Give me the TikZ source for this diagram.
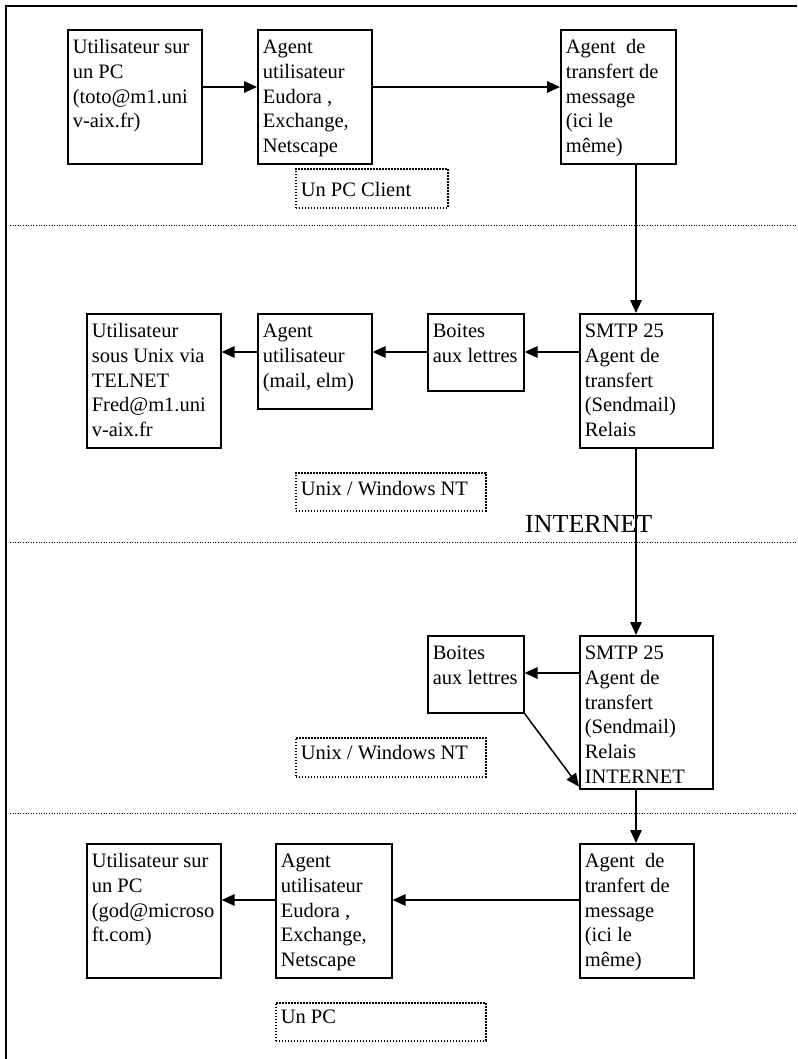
\documentclass[tikz,border=0pt]{standalone}
\usepackage{fontspec}
\setmainfont{Liberation Serif}
\usetikzlibrary{arrows.meta,calc}
\newcommand{\bxt}[4]{\parbox[t][#2][t]{#1}{\raggedright\rule{0pt}{#3}#4}}
\begin{document}
\begin{tikzpicture}[x=1pt,y=-1pt,
  box/.style={draw,line width=1.6pt,inner xsep=5pt,inner ysep=0pt,anchor=north west,
    font=\fontsize{20.5}{24.7}\selectfont},
  lbl/.style={box,dash pattern=on 1.6pt off 1.4pt},
  arr/.style={line width=1.5pt,-{Triangle[length=13pt,width=11.5pt]}},
  sepline/.style={line width=0.9pt,dash pattern=on 1pt off 1.6pt},
  frame/.style={line width=2.5pt}]
\useasboundingbox (0,0) rectangle (797,1059);
% frame
\coordinate (f1) at (6,1059);
\coordinate (f2) at (6,6);
\coordinate (f3) at (797,6);
\draw[frame] (f1) -- (f2) -- (f3);
% separators
\coordinate (s1a) at (10,225); \coordinate (s1b) at (797,225);
\coordinate (s2a) at (10,542); \coordinate (s2b) at (797,542);
\coordinate (s3a) at (10,813); \coordinate (s3b) at (797,813);
\draw[sepline] (s1a) -- (s1b);
\draw[sepline] (s2a) -- (s2b);
\draw[sepline] (s3a) -- (s3b);
% row A
\node[box] (A1) at (67,29) {\bxt{124pt}{134pt}{24pt}{Utilisateur~sur\\un~PC\\(toto@m1.uni\\v-aix.fr)}};
\node[box] (A2) at (257,29) {\bxt{104pt}{134pt}{24pt}{Agent\\utilisateur\\Eudora~,\\Exchange,\\Netscape}};
\node[box] (A3) at (560,29) {\bxt{105pt}{134pt}{24pt}{Agent~~de\\transfert~de\\message\\(ici~le\\même)}};
\node[lbl] (L1) at (295,168) {\bxt{142pt}{39pt}{28pt}{Un~PC~Client}};
% row B
\node[box] (B1) at (86,313) {\bxt{124pt}{134pt}{24pt}{Utilisateur\\sous~Unix~via\\TELNET\\Fred@m1.uni\\v-aix.fr}};
\node[box] (B2) at (257,313) {\bxt{104pt}{95pt}{24pt}{Agent\\utilisateur\\(mail,~elm)}};
\node[box] (B3) at (427,313) {\bxt{86pt}{77pt}{24pt}{Boites\\aux~lettres}};
\node[box] (B4) at (579,313) {\bxt{123pt}{134pt}{24pt}{SMTP~25\\Agent~de\\transfert\\(Sendmail)\\Relais}};
\node[lbl] (L2) at (295,472) {\bxt{180pt}{38pt}{23pt}{Unix~/~Windows~NT}};
\node[anchor=base west,inner sep=0pt,font=\fontsize{26}{30}\selectfont] (inet) at (525,532) {INTERNET};
% row C
\node[box] (C1) at (427,635) {\bxt{86pt}{77pt}{24pt}{Boites\\aux~lettres}};
\node[box] (C2) at (579,635) {\bxt{123pt}{153pt}{24pt}{SMTP~25\\Agent~de\\transfert\\(Sendmail)\\Relais\\INTERNET}};
\node[lbl] (L3) at (295,737) {\bxt{180pt}{39pt}{22pt}{Unix~/~Windows~NT}};
% row D
\node[box] (D1) at (86,843) {\bxt{124pt}{134pt}{24pt}{Utilisateur~sur\\un~PC\\(god@microso\\ft.com)}};
\node[box] (D2) at (275,843) {\bxt{106pt}{134pt}{24pt}{Agent\\utilisateur\\Eudora~,\\Exchange,\\Netscape}};
\node[box] (D3) at (579,843) {\bxt{104pt}{134pt}{24pt}{Agent~~de\\tranfert~de\\message\\(ici~le\\même)}};
\node[lbl] (L4) at (275,1002) {\bxt{200pt}{38pt}{21pt}{Un~PC}};
% connectors
\coordinate (vx) at (636,0);
\coordinate (h1) at (0,87);
\coordinate (h2) at (0,352);
\coordinate (h3) at (0,673);
\coordinate (h4) at (0,900);
\draw[arr] (A1.east |- h1) -- (A2.west |- h1);
\draw[arr] (A2.east |- h1) -- (A3.west |- h1);
\draw[arr] (A3.south -| vx) -- (B4.north -| vx);
\draw[arr] (B4.west |- h2) -- (B3.east |- h2);
\draw[arr] (B3.west |- h2) -- (B2.east |- h2);
\draw[arr] (B2.west |- h2) -- (B1.east |- h2);
\draw[arr] (B4.south -| vx) -- (C2.north -| vx);
\draw[arr] (C2.west |- h3) -- (C1.east |- h3);
\draw[arr] (C1.south east) -- ([yshift=3pt]C2.south west);
\draw[arr] (C2.south -| vx) -- (D3.north -| vx);
\draw[arr] (D3.west |- h4) -- (D2.east |- h4);
\draw[arr] (D2.west |- h4) -- (D1.east |- h4);
\end{tikzpicture}
\end{document}
